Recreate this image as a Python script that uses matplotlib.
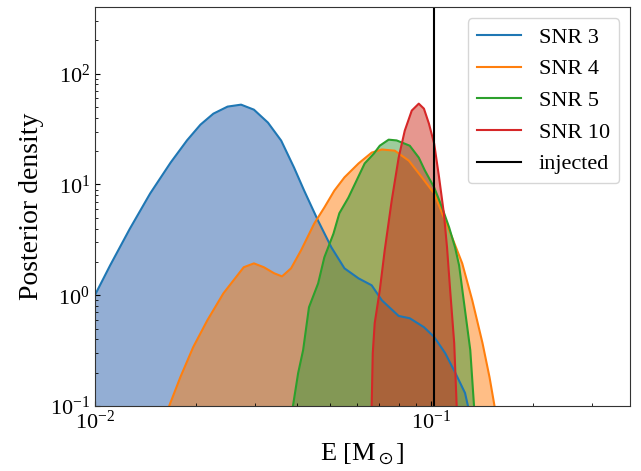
import numpy as np
import matplotlib
matplotlib.use("Agg")
import matplotlib.pyplot as plt

plt.rcParams["font.family"] = ["Liberation Serif", "DejaVu Serif"]
plt.rcParams["mathtext.fontset"] = "stix"

# posterior densities (E in solar masses)
e_snr3 = [0.0095, 0.010, 0.0111, 0.0127, 0.0146, 0.0168, 0.0188, 0.0206, 0.0225,
          0.0248, 0.0272, 0.0297, 0.0327, 0.0358, 0.0391, 0.0419, 0.0461, 0.0505,
          0.0552, 0.0608, 0.0665, 0.0713, 0.080, 0.0863, 0.0951, 0.102, 0.110,
          0.118, 0.126, 0.132]
p_snr3 = [0.74, 1.0, 1.86, 3.98, 8.3, 15.8, 25.1, 34.7, 43.6,
          50.5, 52.6, 47.4, 36.2, 24.9, 14.2, 8.8, 4.7, 2.7,
          1.75, 1.42, 1.23, 0.90, 0.65, 0.62, 0.515, 0.42, 0.30,
          0.198, 0.131, 0.07]

e_snr4 = [0.0160, 0.01663, 0.01795, 0.0196, 0.0216, 0.0241, 0.0277, 0.0297, 0.0318,
          0.0341, 0.0360, 0.0383, 0.0410, 0.0449, 0.0481, 0.0515, 0.0552, 0.0608,
          0.0665, 0.0713, 0.0779, 0.0858, 0.0938, 0.102, 0.1077, 0.1153, 0.1236,
          0.1324, 0.142, 0.149, 0.154, 0.158]
p_snr4 = [0.06, 0.1, 0.182, 0.340, 0.595, 1.04, 1.79, 1.94, 1.79,
          1.58, 1.48, 1.75, 2.54, 4.45, 6.2, 8.8, 11.6, 15.5,
          19.4, 20.7, 20.2, 16.4, 11.6, 8.3, 5.5, 3.33, 1.94,
          0.90, 0.37, 0.182, 0.102, 0.06]

e_snr5 = [0.0383, 0.0388, 0.0402, 0.0416, 0.0433, 0.0461, 0.0481, 0.0512, 0.0533,
          0.0567, 0.060, 0.0634, 0.0675, 0.0703, 0.0747, 0.0789, 0.0863, 0.0918,
          0.0957, 0.102, 0.1077, 0.113, 0.1177, 0.121, 0.126, 0.1306, 0.134, 0.136]
p_snr5 = [0.06, 0.1, 0.198, 0.32, 0.78, 1.28, 2.2, 3.6, 5.5,
          7.6, 10.9, 15.5, 19.0, 22.4, 25.4, 25.0, 22.4, 17.5,
          13.4, 9.4, 6.2, 4.1, 2.7, 1.86, 0.73, 0.32, 0.1, 0.06]

e_snr10 = [0.0664, 0.0665, 0.067, 0.0679, 0.0703, 0.0727, 0.0763, 0.080, 0.0834,
           0.0875, 0.0918, 0.0951, 0.0984, 0.102, 0.1055, 0.109, 0.1114, 0.1138,
           0.117, 0.119, 0.120]
p_snr10 = [0.06, 0.1, 0.30, 0.56, 1.11, 2.54, 7.2, 17.5, 30.6,
           46.5, 53.7, 48.4, 35.5, 23.4, 11.6, 5.5, 2.7, 1.11,
           0.37, 0.1, 0.06]

labels = ["SNR 3", "SNR 4", "SNR 5", "SNR 10"]
line_colors = ["C0", "C1", "C2", "C3"]
fill_colors = ["#285fab", "C1", "#3f9a3c", "#cf3020"]
e_injected = 0.102

fig = plt.figure(figsize=(6.41, 4.71), dpi=100)
ax = fig.add_axes([0.148, 0.138, 0.835, 0.847])

series = [(e_snr3, p_snr3), (e_snr4, p_snr4), (e_snr5, p_snr5), (e_snr10, p_snr10)]
for i, (e, p) in enumerate(series):
    ax.fill_between(e, p, 1e-4, color=fill_colors[i], alpha=0.5, lw=0)
    ax.plot(e, p, color=line_colors[i], lw=1.5, label=labels[i])

ax.axvline(e_injected, color="k", lw=1.5, label="injected")

ax.set_xscale("log")
ax.set_yscale("log")
ax.set_xlim(0.01, 0.39)
ax.set_ylim(0.1, 400)
ax.tick_params(which="both", direction="in", labelsize=16)
for s in ax.spines.values():
    s.set_edgecolor("0.2")
ax.set_xlabel(r"E [M$_\odot$]", fontsize=19, labelpad=5)
ax.set_ylabel("Posterior density", fontsize=20)
ax.legend(loc="upper right", fontsize=16)

fig.savefig("out.png", dpi=100)
